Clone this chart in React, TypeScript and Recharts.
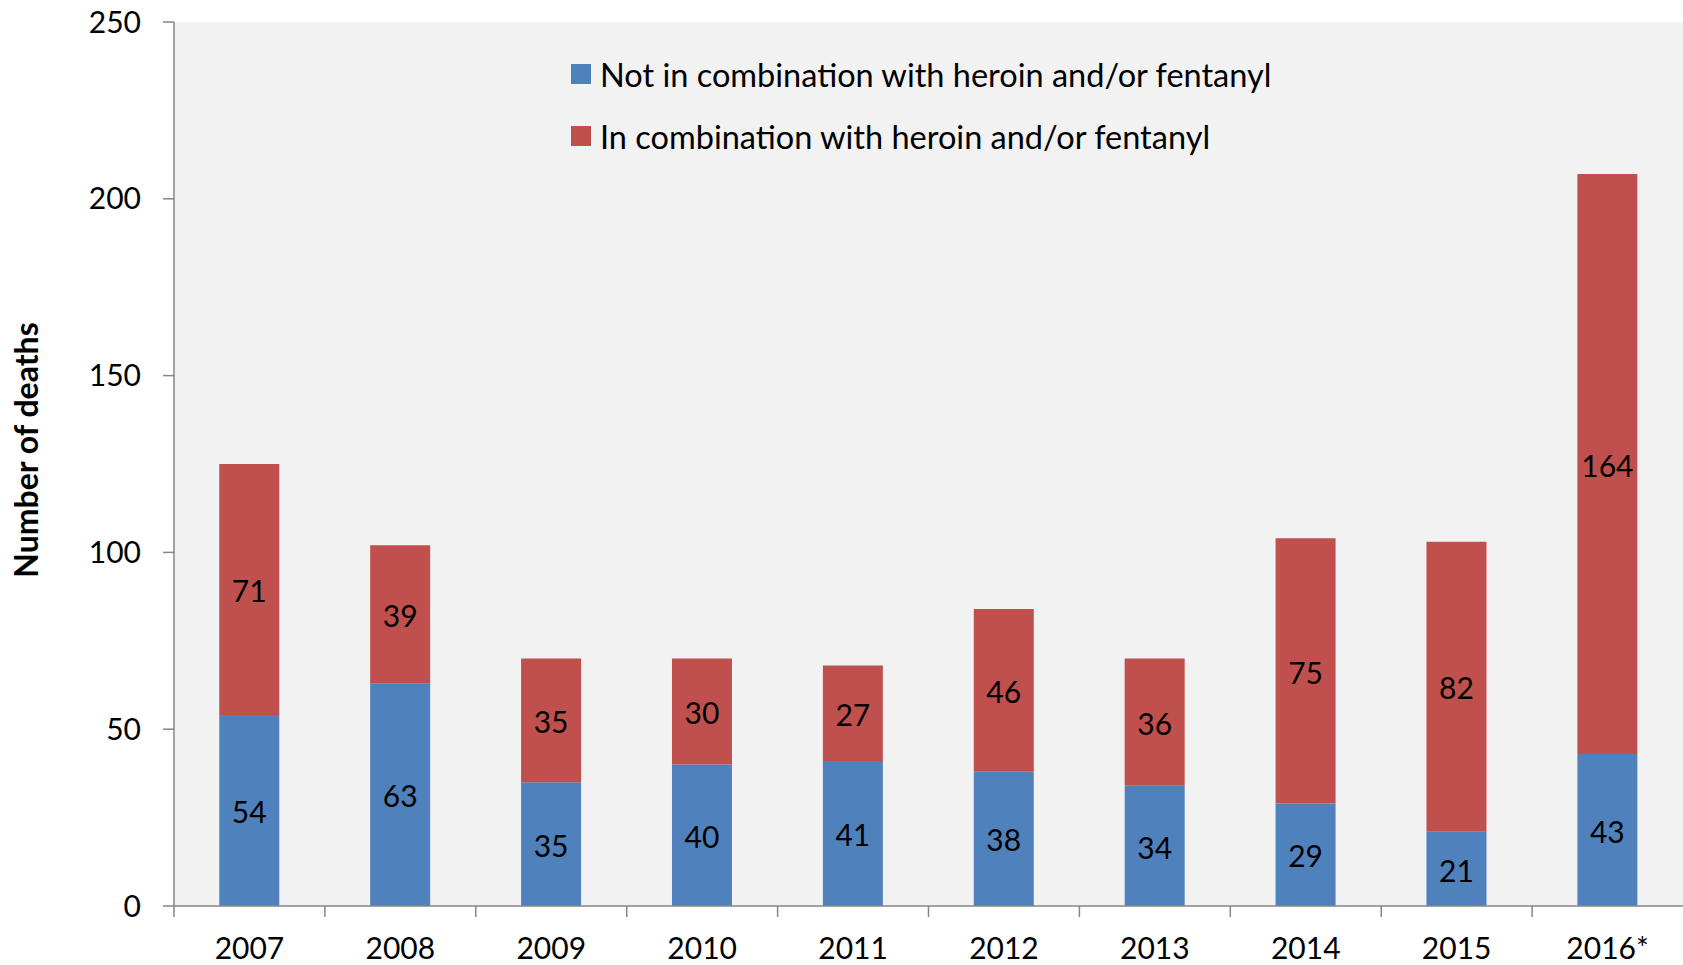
import { BarChart, Bar, XAxis, YAxis, CartesianGrid, Legend, LabelList } from 'recharts'

// Chart data
const years = ['2007', '2008', '2009', '2010', '2011', '2012', '2013', '2014', '2015', '2016*']
const notCombined = [54, 63, 35, 40, 41, 38, 34, 29, 21, 43]
const combined = [71, 39, 35, 30, 27, 46, 36, 75, 82, 164]
const yTicks = [0, 50, 100, 150, 200, 250]
const seriesNames = [
  'Not in combination with heroin and/or fentanyl',
  'In combination with heroin and/or fentanyl',
]

const data = years.map((year, i) => ({
  year,
  notCombined: notCombined[i],
  combined: combined[i],
}))

// Layout / style
const WIDTH = 1683
const HEIGHT = 965
const Y_AXIS_WIDTH = 174
const X_AXIS_HEIGHT = 59
const FONT = 'Lato, "Open Sans", sans-serif'
const AXIS_COLOR = '#868686'
const BLUE = '#4F81BD'
const RED = '#C0504D'
const BAND = (WIDTH - Y_AXIS_WIDTH) / years.length

/**
 * X tick: year label centred on the bar, tick mark on the category boundary
 */
const XTick = (props: any) => {
  const { x, y, payload } = props
  const bx = x - BAND / 2
  return (
    <g>
      <line x1={bx} x2={bx} y1={y} y2={y + 11} stroke={AXIS_COLOR} strokeWidth={1.5} />
      <text x={x} y={y + 53} textAnchor="middle" fill="#000" fontSize={30} fontFamily={FONT}>
        {payload.value}
      </text>
    </g>
  )
}

/**
 * Y axis title
 */
const YTitle = (props: any) => {
  const { x, y, height } = props.viewBox
  const cx = x + 25
  const cy = y + height / 2 - 14
  return (
    <text
      x={cx}
      y={cy}
      transform={`rotate(-90 ${cx} ${cy})`}
      textAnchor="middle"
      dominantBaseline="central"
      fontSize={32}
      fontWeight="bold"
      fontFamily={FONT}
      fill="#000"
    >
      Number of deaths
    </text>
  )
}

/**
 * Legend: two stacked rows with square swatches, in series order
 */
const renderLegend = (props: any) => {
  const payload = [...(props.payload || [])].sort(
    (a: any, b: any) => seriesNames.indexOf(a.value) - seriesNames.indexOf(b.value)
  )
  return (
    <div style={{ display: 'flex', flexDirection: 'column', fontFamily: FONT, fontSize: 32.5 }}>
      {payload.map((entry: any) => (
        <div key={entry.value} style={{ display: 'flex', alignItems: 'center', height: 62 }}>
          <span style={{ width: 20, height: 20, background: entry.color, marginRight: 9 }} />
          <span style={{ color: '#000', whiteSpace: 'nowrap' }}>{entry.value}</span>
        </div>
      ))}
    </div>
  )
}

export default function App() {
  return (
    <div>
      <style>{`body{margin:0;}`}</style>
      <BarChart
        width={WIDTH}
        height={HEIGHT}
        data={data}
        margin={{ top: 22, right: 0, left: 0, bottom: 0 }}
        barCategoryGap="30%"
      >
        {/* Plot background */}
        <CartesianGrid horizontal={false} vertical={false} fill="#F2F2F2" stroke="none" />

        <XAxis
          dataKey="year"
          height={X_AXIS_HEIGHT}
          tickLine={false}
          tickSize={0}
          tickMargin={0}
          interval={0}
          axisLine={{ stroke: AXIS_COLOR, strokeWidth: 1.5 }}
          tick={XTick}
        />

        <YAxis
          width={Y_AXIS_WIDTH}
          domain={[0, 250]}
          ticks={yTicks}
          tickSize={11}
          tickMargin={22}
          axisLine={{ stroke: AXIS_COLOR, strokeWidth: 1.5 }}
          tickLine={{ stroke: AXIS_COLOR, strokeWidth: 1.5 }}
          tick={{ fill: '#000', fontSize: 30, fontFamily: FONT }}
          label={YTitle}
        />

        <Legend
          layout="vertical"
          align="center"
          verticalAlign="middle"
          content={renderLegend}
          wrapperStyle={{ top: 43, left: 571, width: 'auto' }}
        />

        <Bar
          dataKey="notCombined"
          name={seriesNames[0]}
          stackId="deaths"
          fill={BLUE}
          isAnimationActive={false}
        >
          <LabelList dataKey="notCombined" position="center" fill="#000" fontSize={30} fontFamily={FONT} dy={2} />
        </Bar>
        <Bar
          dataKey="combined"
          name={seriesNames[1]}
          stackId="deaths"
          fill={RED}
          isAnimationActive={false}
        >
          <LabelList dataKey="combined" position="center" fill="#000" fontSize={30} fontFamily={FONT} dy={2} />
        </Bar>
      </BarChart>
    </div>
  )
}
